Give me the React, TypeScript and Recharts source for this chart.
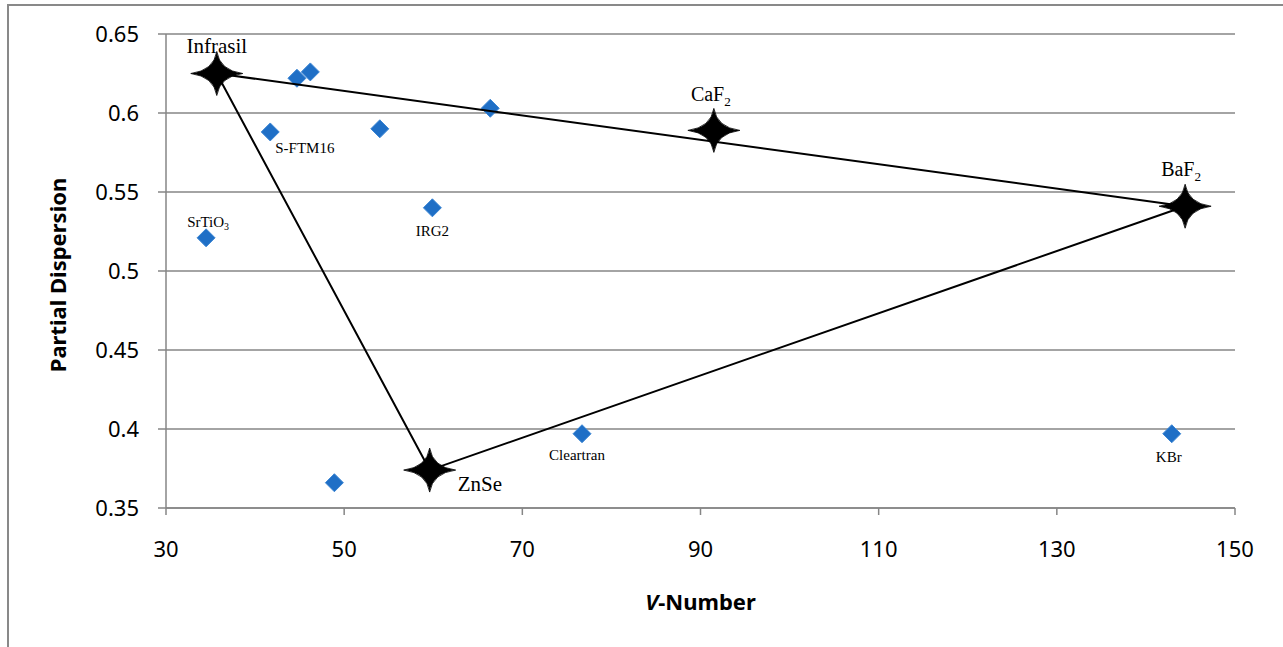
import React from 'react';
import { ScatterChart, Scatter, XAxis, YAxis, CartesianGrid } from 'recharts';

// ---- data ----
const vNumbers = [35.7, 44.7, 46.2, 41.7, 54.0, 66.4, 59.9, 34.5, 48.9, 76.7, 142.9, 59.6, 91.5, 144.4];
const partialDispersions = [0.625, 0.622, 0.626, 0.588, 0.59, 0.603, 0.54, 0.521, 0.366, 0.397, 0.397, 0.374, 0.589, 0.541];
const pointLabels = ['', '', '', 'S-FTM16', '', '', 'IRG2', 'SrTiO3', '', 'Cleartran', 'KBr', '', '', ''];

const starNames = ['Infrasil', 'ZnSe', 'CaF2', 'BaF2'];
const starV = [35.7, 59.6, 91.5, 144.4];
const starP = [0.625, 0.374, 0.589, 0.541];

const triangleOrder = ['Infrasil', 'BaF2', 'ZnSe', 'Infrasil'];

const xTicks = [30, 50, 70, 90, 110, 130, 150];
const yTicks = [0.35, 0.4, 0.45, 0.5, 0.55, 0.6, 0.65];

// ---- presentation ----
const subscripted: Record<string, [string, string]> = {
  CaF2: ['CaF', '2'],
  BaF2: ['BaF', '2'],
  SrTiO3: ['SrTiO', '3'],
};

const labelPlacement: Record<string, { dx: number; dy: number; anchor: 'start' | 'middle' | 'end'; size: number }> = {
  'S-FTM16': { dx: 5, dy: 21, anchor: 'start', size: 15 },
  SrTiO3: { dx: 2, dy: -11, anchor: 'middle', size: 15 },
  IRG2: { dx: 0, dy: 28, anchor: 'middle', size: 15 },
  Cleartran: { dx: -5, dy: 26, anchor: 'middle', size: 15 },
  KBr: { dx: -3, dy: 28, anchor: 'middle', size: 15 },
  Infrasil: { dx: 0, dy: -21, anchor: 'middle', size: 21 },
  CaF2: { dx: -3, dy: -29, anchor: 'middle', size: 20 },
  BaF2: { dx: -4, dy: -30, anchor: 'middle', size: 20 },
  ZnSe: { dx: 28, dy: 21, anchor: 'start', size: 21 },
};

const SERIF = '"Liberation Serif", "Times New Roman", serif';
const SANS = '"Noto Sans", "Open Sans", sans-serif';
const GRID = '#868686';

const points = vNumbers.map((v, i) => ({ x: v, y: partialDispersions[i], label: pointLabels[i] }));
const stars = starNames.map((n, i) => ({ x: starV[i], y: starP[i], label: n }));
const triangle = triangleOrder.map((n) => {
  const i = starNames.indexOf(n);
  return { x: starV[i], y: starP[i] };
});

function PointLabel({ name, cx, cy }: { name: string; cx: number; cy: number }) {
  if (!name) return null;
  const p = labelPlacement[name];
  if (!p) return null;
  const sub = subscripted[name];
  return (
    <text x={cx + p.dx} y={cy + p.dy} textAnchor={p.anchor} fontFamily={SERIF} fontSize={p.size} fill="#000">
      {sub ? (
        <>
          <tspan>{sub[0]}</tspan>
          <tspan fontSize={p.size * 0.66} dy={p.size * 0.22}>{sub[1]}</tspan>
        </>
      ) : (
        name
      )}
    </text>
  );
}

const DiamondShape = (props: any) => {
  const { cx, cy, payload } = props;
  if (cx == null || cy == null) return <g />;
  const r = 9;
  return (
    <g>
      <polygon
        points={`${cx},${cy - r} ${cx + r},${cy} ${cx},${cy + r} ${cx - r},${cy}`}
        fill="#1F6FC6"
        stroke="#3C86D4"
        strokeWidth={1}
      />
      <PointLabel name={payload?.label} cx={cx} cy={cy} />
    </g>
  );
};

const StarShape = (props: any) => {
  const { cx, cy, payload } = props;
  if (cx == null || cy == null) return <g />;
  const a = 26;
  const b = 22;
  const c = 3;
  const d = `M ${cx + a} ${cy} Q ${cx + c} ${cy + c} ${cx} ${cy + b} Q ${cx - c} ${cy + c} ${cx - a} ${cy} Q ${cx - c} ${cy - c} ${cx} ${cy - b} Q ${cx + c} ${cy - c} ${cx + a} ${cy} Z`;
  return (
    <g>
      <path d={d} fill="#000" stroke="#000" strokeWidth={0.8} strokeLinejoin="miter" />
      <PointLabel name={payload?.label} cx={cx} cy={cy} />
    </g>
  );
};

const EmptyShape = () => <g />;

const XTitle = (props: any) => {
  const vb = props.viewBox || { x: 166, y: 508, width: 1069, height: 100 };
  return (
    <text x={vb.x + vb.width / 2} y={vb.y + 102} textAnchor="middle" fontFamily={SANS} fontSize={22} fontWeight="bold" fill="#000">
      <tspan fontStyle="italic">V</tspan>
      <tspan>-Number</tspan>
    </text>
  );
};

const YTitle = (props: any) => {
  const vb = props.viewBox || { x: 46, y: 34, width: 120, height: 474 };
  const cx = vb.x + 11;
  const cy = vb.y + vb.height / 2 + 4;
  return (
    <text
      x={cx}
      y={cy}
      transform={`rotate(-90, ${cx}, ${cy})`}
      textAnchor="middle"
      dominantBaseline="central"
      fontFamily={SANS}
      fontSize={22}
      fontWeight="bold"
      fill="#000"
    >
      Partial Dispersion
    </text>
  );
};

export default function App() {
  return (
    <div style={{ position: 'fixed', left: 0, top: 0, width: 1283, height: 647, overflow: 'hidden', background: '#fff' }}>
      <div
        style={{
          position: 'absolute',
          left: 7,
          top: 4,
          width: 1290,
          height: 700,
          borderTop: '2px solid #898989',
          borderLeft: '2px solid #898989',
          boxSizing: 'border-box',
        }}
      />
      <div style={{ position: 'absolute', left: 0, top: 0 }}>
        <ScatterChart width={1283} height={647} margin={{ top: 34, right: 48, left: 46, bottom: 39 }}>
          <CartesianGrid vertical={false} stroke={GRID} strokeWidth={1.5} />
          <XAxis
            type="number"
            dataKey="x"
            domain={[30, 150]}
            ticks={xTicks}
            interval={0}
            height={100}
            tickSize={7}
            tickMargin={26}
            axisLine={{ stroke: GRID, strokeWidth: 1.5 }}
            tickLine={{ stroke: GRID, strokeWidth: 1.5 }}
            tick={{ fontFamily: SANS, fontSize: 22, fill: '#000' }}
            label={XTitle}
          />
          <YAxis
            type="number"
            dataKey="y"
            domain={[0.35, 0.65]}
            ticks={yTicks}
            interval={0}
            width={120}
            tickSize={8}
            tickMargin={19}
            axisLine={{ stroke: GRID, strokeWidth: 1.5 }}
            tickLine={{ stroke: GRID, strokeWidth: 1.5 }}
            tick={{ fontFamily: SANS, fontSize: 22, fill: '#000' }}
            label={YTitle}
          />
          <Scatter data={points} shape={DiamondShape} isAnimationActive={false} />
          <Scatter
            data={triangle}
            shape={EmptyShape}
            line={{ stroke: '#000', strokeWidth: 2 }}
            lineType="joint"
            isAnimationActive={false}
          />
          <Scatter data={stars} shape={StarShape} isAnimationActive={false} />
        </ScatterChart>
      </div>
    </div>
  );
}
